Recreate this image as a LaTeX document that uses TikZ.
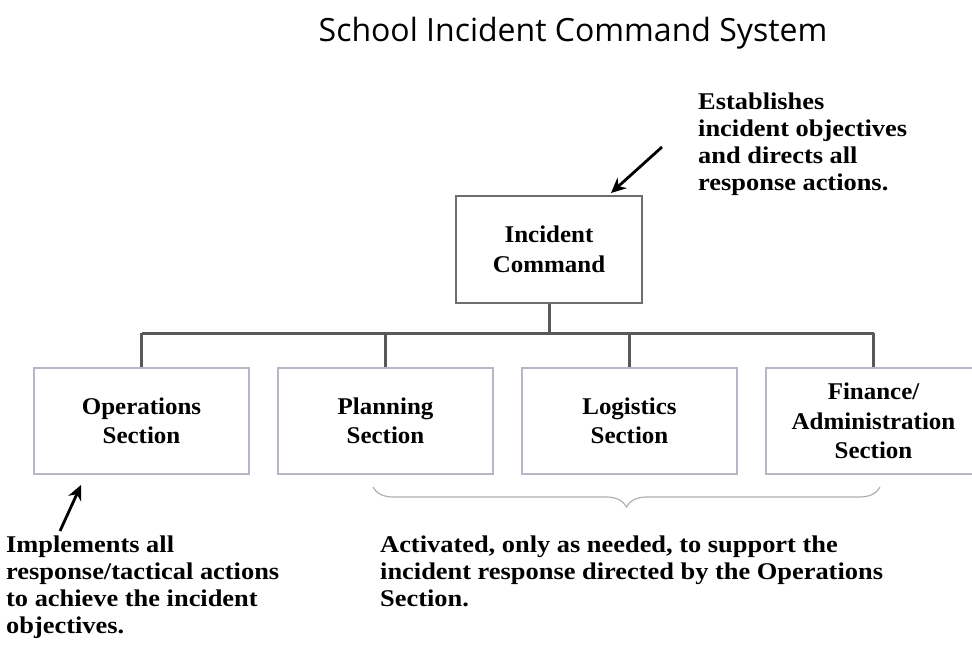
\documentclass[tikz,border=0pt]{standalone}
\usepackage{fontspec}
\setmainfont{Liberation Serif}
\newfontfamily\notefont[FakeStretch=1.1]{Liberation Serif}
\newfontfamily\boxfont[FakeStretch=1.04]{Liberation Serif}
\newfontfamily\titlefont{Open Sans}
\usetikzlibrary{decorations.pathreplacing,arrows.meta}
\definecolor{conncol}{HTML}{595959}
\definecolor{icborder}{HTML}{6E6E6E}
\definecolor{secborder}{HTML}{B4B8C4}
\definecolor{bracecol}{HTML}{B0B0B0}
\begin{document}
\begin{tikzpicture}[x=1pt,y=-1pt,
  note/.style={font=\notefont\bfseries\fontsize{24}{27}\selectfont, align=left, inner sep=0pt, anchor=north west},
  boxtext/.style={font=\boxfont\bfseries\fontsize{24}{29.5}\selectfont, align=center},
  icbox/.style={draw=icborder, line width=1.8pt, boxtext, minimum width=186pt, minimum height=107pt},
  secbox/.style={draw=secborder, line width=1.4pt, boxtext, minimum width=215pt, minimum height=106pt},
  conn/.style={draw=conncol, line width=3pt},
  arr/.style={draw=black, line width=2.8pt, -{Stealth[length=15pt,width=14pt]}},
  bracestyle/.style={draw=bracecol, line width=1.2pt, decorate, decoration={brace, mirror, amplitude=20pt}}
]
\useasboundingbox (0,0) rectangle (972,650);
\fill[white] (0,0) rectangle (972,650);

\node[font=\titlefont\fontsize{32}{38}\selectfont, inner sep=0pt] (title) at (573,33) {School Incident Command System};

\node[icbox] (ic) at (549,249.5) {Incident\\Command};

\node[secbox] (ops) at (141.5,421) {Operations\\Section};
\node[secbox] (plan) at (385.5,421) {Planning\\Section};
\node[secbox] (log) at (629.5,421) {Logistics\\Section};
\node[secbox] (fin) at (873.5,421) {Finance/\\Administration\\Section};

\coordinate (bar) at (0,333);
\draw[conn] (ic.south) -- (ic.south |- bar);
\draw[conn] (ops.north |- bar) -- (fin.north |- bar);
\draw[conn] (ops.north |- bar) -- (ops.north);
\draw[conn] (plan.north |- bar) -- (plan.north);
\draw[conn] (log.north |- bar) -- (log.north);
\draw[conn] (fin.north |- bar) -- (fin.north);

\coordinate (bl) at (373,487);
\coordinate (br) at (880,487);
\draw[bracestyle] (bl) -- (br);

\node[note] (est) at (698,93) {Establishes\\incident objectives\\and directs all\\response actions.};
\node[note] (impl) at (6,536) {Implements all\\response/tactical actions\\to achieve the incident\\objectives.};
\node[note] (act) at (380,536) {Activated, only as needed, to support the\\incident response directed by the Operations\\Section.};

\coordinate (a1t) at (662,147);
\coordinate (a1h) at (611,193);
\draw[arr] (a1t) -- (a1h);
\coordinate (a2t) at (60,531);
\coordinate (a2h) at (81,485);
\draw[arr] (a2t) -- (a2h);
\end{tikzpicture}
\end{document}
